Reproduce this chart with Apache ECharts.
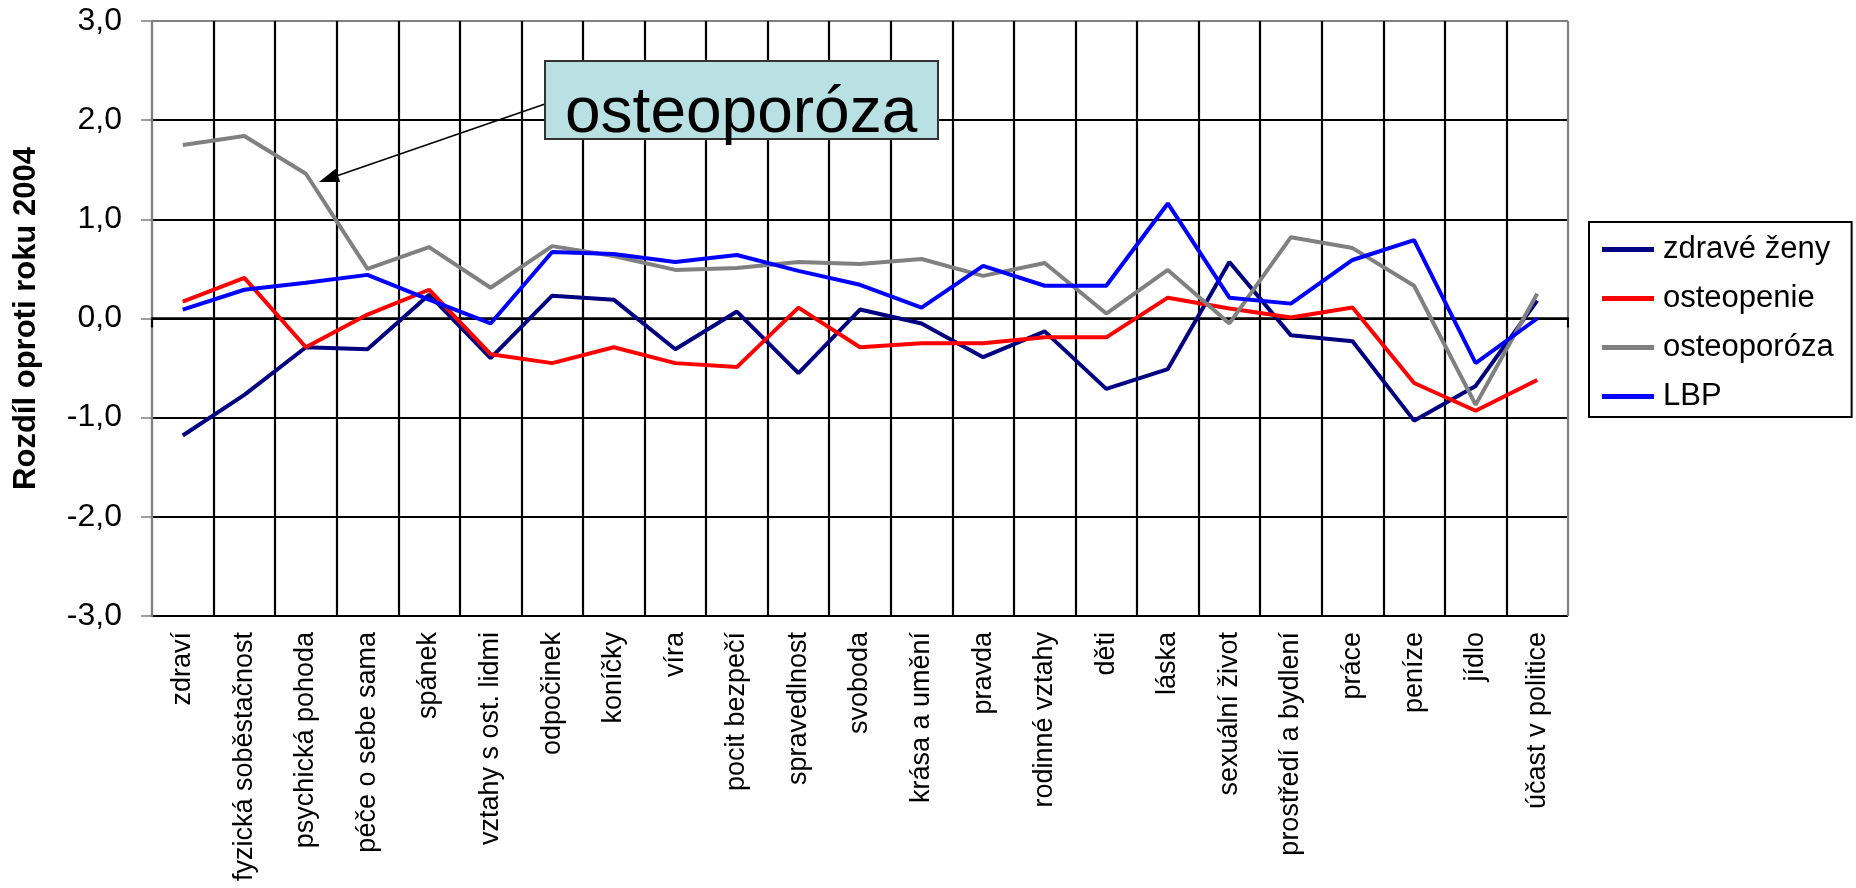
<!DOCTYPE html>
<html>
<head>
<meta charset="utf-8">
<script src="https://cdn.jsdelivr.net/npm/echarts@6/dist/echarts.min.js"></script>
<style>
	html, body { margin: 0; padding: 0; background: #fff; }
	#chart { width: 1856px; height: 888px; }
</style>
</head>
<body>
<div id="chart"></div>
<script>
	var categories = ['zdraví', 'fyzická soběstačnost', 'psychická pohoda', 'péče o sebe sama', 'spánek',
		'vztahy s ost. lidmi', 'odpočinek', 'koníčky', 'víra', 'pocit bezpečí', 'spravedlnost', 'svoboda',
		'krása a umění', 'pravda', 'rodinné vztahy', 'děti', 'láska', 'sexuální život', 'prostředí a bydlení',
		'práce', 'peníze', 'jídlo', 'účast v politice']

	var zdraveZeny = [-1.18, -0.77, -0.29, -0.31, 0.24, -0.40, 0.23, 0.19, -0.31, 0.07, -0.55, 0.09,
		-0.05, -0.39, -0.13, -0.71, -0.51, 0.57, -0.17, -0.23, -1.03, -0.68, 0.18]
	var osteopenie = [0.17, 0.41, -0.29, 0.04, 0.29, -0.36, -0.45, -0.29, -0.45, -0.49, 0.11, -0.29,
		-0.25, -0.25, -0.19, -0.19, 0.21, 0.10, 0.01, 0.11, -0.65, -0.93, -0.62]
	var osteoporoza = [1.75, 1.84, 1.46, 0.50, 0.72, 0.31, 0.73, 0.63, 0.49, 0.51, 0.57, 0.55,
		0.60, 0.43, 0.56, 0.05, 0.49, -0.05, 0.82, 0.71, 0.33, -0.87, 0.25]
	var lbp = [0.09, 0.29, 0.36, 0.44, 0.19, -0.05, 0.67, 0.65, 0.57, 0.64, 0.48, 0.34,
		0.11, 0.53, 0.33, 0.33, 1.16, 0.21, 0.15, 0.59, 0.79, -0.45, 0.00]

	var seriesNames = ['zdravé ženy', 'osteopenie', 'osteoporóza', 'LBP']
	var seriesColors = ['#000080', '#ff0000', '#808080', '#0000ff']
	var seriesData = [zdraveZeny, osteopenie, osteoporoza, lbp]

	var yTitle = 'Rozdíl oproti roku 2004'
	var noteText = 'osteoporóza'

	var font = 'Liberation Sans, Arial, sans-serif'

	// vertical grid colours: plot edges grey, inner lines black
	var xSplitColors = []
	for (var i = 0; i <= categories.length; i++) {
		xSplitColors.push(i === 0 || i === categories.length ? '#808080' : '#000')
	}

	// arrow from the note box to the grey line
	var arrowFrom = [545, 104]
	var arrowTo = [319, 182]
	var dx = arrowTo[0] - arrowFrom[0], dy = arrowTo[1] - arrowFrom[1]
	var len = Math.sqrt(dx * dx + dy * dy)
	var ux = dx / len, uy = dy / len
	var headLen = 20, headHalf = 7
	var bx = arrowTo[0] - ux * headLen, by = arrowTo[1] - uy * headLen

	var chart = echarts.init(document.getElementById('chart'))
	var option = {
		animation: false,
		textStyle: { fontFamily: font, color: '#000' },
		grid: {
			left: 152,
			right: 288,
			top: 21,
			bottom: 272,
			containLabel: false
		},
		legend: {
			orient: 'vertical',
			left: 1589,
			top: 222,
			padding: [12, 18, 5, 13],
			borderColor: '#000',
			borderWidth: 2,
			itemWidth: 52,
			itemHeight: 5,
			itemGap: 18,
			icon: 'rect',
			data: seriesNames,
			textStyle: {
				fontFamily: font,
				fontSize: 31,
				lineHeight: 30,
				color: '#000',
				padding: [0, 0, 0, 4]
			}
		},
		xAxis: {
			type: 'category',
			data: categories,
			boundaryGap: true,
			axisLine: { show: true, lineStyle: { color: '#000', width: 2.5 } },
			axisTick: { show: true, inside: false, length: 9, lineStyle: { color: '#000', width: 2 } },
			axisLabel: {
				interval: 0,
				rotate: 90,
				margin: 16,
				fontSize: 27,
				fontFamily: font,
				color: '#000'
			},
			splitLine: { show: true, lineStyle: { color: xSplitColors, width: 2.2 } }
		},
		yAxis: {
			type: 'value',
			min: -3,
			max: 3,
			interval: 1,
			name: yTitle,
			nameLocation: 'middle',
			nameGap: 110,
			nameTextStyle: { fontFamily: font, fontSize: 31, fontWeight: 'bold', color: '#000' },
			axisLine: { show: true, lineStyle: { color: '#808080', width: 2.2 } },
			axisTick: { show: true, length: 11, lineStyle: { color: '#808080', width: 1.5 } },
			axisLabel: {
				margin: 30,
				fontSize: 32,
				fontFamily: font,
				color: '#000',
				formatter: function (v) {
					return v.toFixed(1).replace('.', ',')
				}
			},
			splitLine: {
				show: true,
				lineStyle: { color: ['#000', '#000', '#000', '#000', '#000', '#000', '#808080'], width: 2.2 }
			}
		},
		series: seriesNames.map(function (name, k) {
			return {
				name: name,
				type: 'line',
				data: seriesData[k],
				showSymbol: false,
				symbol: 'none',
				z: 3,
				lineStyle: { color: seriesColors[k], width: 4 },
				itemStyle: { color: seriesColors[k] }
			}
		}),
		graphic: [{
			type: 'line',
			z: 100,
			shape: { x1: arrowFrom[0], y1: arrowFrom[1], x2: bx, y2: by },
			style: { stroke: '#000', lineWidth: 1.5 }
		}, {
			type: 'polygon',
			z: 100,
			shape: {
				points: [arrowTo, [bx - uy * headHalf, by + ux * headHalf], [bx + uy * headHalf, by - ux * headHalf]]
			},
			style: { fill: '#000' }
		}, {
			type: 'rect',
			z: 100,
			shape: { x: 545, y: 61, width: 393, height: 78 },
			style: { fill: '#b9e0e2', stroke: '#333', lineWidth: 2 }
		}, {
			type: 'text',
			z: 101,
			x: 565,
			y: 114,
			style: {
				text: noteText,
				fontFamily: font,
				fontSize: 64,
				fill: '#000',
				verticalAlign: 'middle'
			}
		}]
	}
	chart.setOption(option)
</script>
</body>
</html>
